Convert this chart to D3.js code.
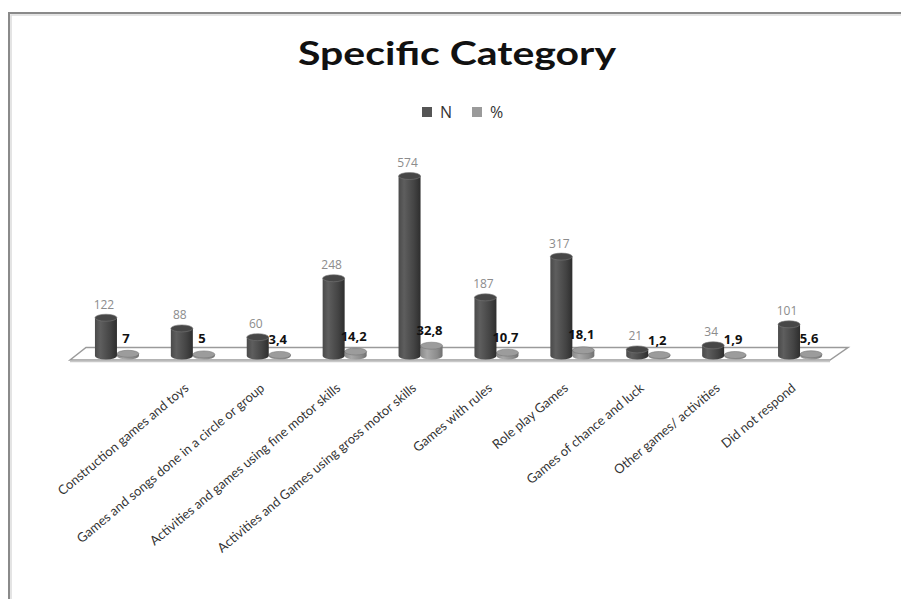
<!DOCTYPE html>
<html>
<head>
<meta charset="utf-8">
<script src="https://cdn.jsdelivr.net/npm/d3@7"></script>
<style>
  body { margin: 0; background: #fff; }
  text { font-family: "Open Sans", Lato, sans-serif; }
</style>
</head>
<body>
<div id="chart"></div>
<script>
// data
var categories = ["c1", "c2", "c3", "c4", "c5", "c6", "c7", "c8", "c9", "c10"]
var axisLabels = ["", "Construction games and toys", "Games and songs done in a circle or group",
  "Activities and games using fine motor skills", "Activities and Games using gross motor skills",
  "Games with rules", "Role play Games", "Games of chance and luck",
  "Other games/ activities", "Did not respond"]
var nValues = [122, 88, 60, 248, 574, 187, 317, 21, 34, 101]
var pctValues = [7, 5, 3.4, 14.2, 32.8, 10.7, 18.1, 1.2, 1.9, 5.6]
var seriesNames = ["N", "%"]

var width = 901
var height = 599

var svg = d3.select("#chart")
  .append("svg")
    .attr("width", width)
    .attr("height", height)

var defs = svg.append("defs")
// cylinder shading for the two series
function cyl(id, stops) {
  var g = defs.append("linearGradient").attr("id", id)
    .attr("x1", "0%").attr("x2", "100%").attr("y1", "0%").attr("y2", "0%")
  stops.forEach(function(s){
    g.append("stop").attr("offset", s[0]).attr("stop-color", s[1])
  })
}
cyl("gN", [["0%", "#4a4a4a"], ["25%", "#5e5e5e"], ["70%", "#444"], ["100%", "#2e2e2e"]])
cyl("gP", [["0%", "#8a8a8a"], ["30%", "#a8a8a8"], ["75%", "#8c8c8c"], ["100%", "#707070"]])

// frame
svg.append("path")
  .attr("d", "M9,600 V13 H902")
  .attr("fill", "none").attr("stroke", "#8a8a8a").attr("stroke-width", 2)
svg.append("path")
  .attr("d", "M11,600 V15 H902")
  .attr("fill", "none").attr("stroke", "#dcdcdc").attr("stroke-width", 1.5)

// title
svg.append("text")
  .attr("x", 457).attr("y", 65)
  .attr("text-anchor", "middle")
  .attr("textLength", 318).attr("lengthAdjust", "spacingAndGlyphs")
  .style("font-family", "Lato, 'Open Sans', sans-serif")
  .style("font-size", "32px").style("font-weight", "bold")
  .attr("fill", "#111")
  .text("Specific Category")

// legend
var legendColors = ["#555", "#9a9a9a"]
var legX = [422, 472]
var leg = svg.append("g")
seriesNames.forEach(function(s, i){
  leg.append("rect").attr("x", legX[i]).attr("y", 107).attr("width", 10).attr("height", 10)
    .attr("fill", legendColors[i])
  leg.append("text").attr("x", legX[i] + 18).attr("y", 118)
    .style("font-size", "16px").attr("fill", "#333").text(s)
})

// scales
var x = d3.scaleBand()
  .domain(categories)
  .range([68, 827])

var y = d3.scaleLinear()
  .domain([0, 574])
  .range([356, 176])

var barW = 22
var offP = 22
var ry = 3.5

// floor
svg.append("path")
  .attr("d", "M70,360 L86,347.5 L848,347.5 L830,360 Z")
  .attr("fill", "#fff").attr("stroke", "#9a9a9a").attr("stroke-width", 1.5)
svg.append("line").attr("x1", 70).attr("x2", 830).attr("y1", 361.5).attr("y2", 361.5)
  .attr("stroke", "#c8c8c8").attr("stroke-width", 1.5)

function drawCyl(g, cx, top, fill, capColor) {
  var base = y(0)
  g.append("path")
    .attr("d", "M" + (cx - barW / 2) + "," + top +
      " V" + base +
      " A" + (barW / 2) + "," + ry + " 0 0 0 " + (cx + barW / 2) + "," + base +
      " V" + top + " Z")
    .attr("fill", fill)
  g.append("ellipse")
    .attr("cx", cx).attr("cy", top)
    .attr("rx", barW / 2).attr("ry", ry)
    .attr("fill", capColor).attr("stroke", "#777").attr("stroke-width", 0.6)
}

// % bars (slightly behind)
var gp = svg.append("g")
pctValues.forEach(function(v, i){
  var cx = x(categories[i]) + x.bandwidth() / 2 + offP
  drawCyl(gp, cx, Math.min(y(v), y(0) - 1), "url(#gP)", "#9c9c9c")
})

// N bars
var gn = svg.append("g")
nValues.forEach(function(v, i){
  var cx = x(categories[i]) + x.bandwidth() / 2
  drawCyl(gn, cx, y(v), "url(#gN)", "#474747")
})

// value labels
svg.append("g").selectAll("text")
  .data(nValues)
  .enter().append("text")
    .attr("x", function(d, i){ return x(categories[i]) + x.bandwidth() / 2 - 2 })
    .attr("y", function(d){ return y(d) - 9 })
    .attr("text-anchor", "middle")
    .style("font-size", "12px")
    .attr("fill", "#8c8c8c")
    .text(function(d){ return d })

var fmt = function(d){ return String(d).replace(".", ",") }
svg.append("g").selectAll("text")
  .data(pctValues)
  .enter().append("text")
    .attr("x", function(d, i){ return x(categories[i]) + x.bandwidth() / 2 + offP - 2 })
    .attr("y", function(d){ return y(d) - 11 })
    .attr("text-anchor", "middle")
    .style("font-size", "13px").style("font-weight", "bold")
    .attr("fill", "#111")
    .text(fmt)

// category axis, rotated labels
var xAxis = d3.axisBottom(x)
  .tickSize(0)
  .tickFormat(function(d, i){ return axisLabels[i] })

var ax = svg.append("g")
  .attr("transform", "translate(0,386)")
  .call(xAxis)
ax.select(".domain").remove()
ax.selectAll("text")
  .style("font-size", "13px")
  .style("font-family", "Lato, 'Open Sans', sans-serif")
  .attr("fill", "#333")
  .attr("text-anchor", "end")
  .attr("dy", "0.55em")
  .attr("transform", "translate(3,-2) rotate(-40)")
  .attr("y", 0)
</script>
</body>
</html>
